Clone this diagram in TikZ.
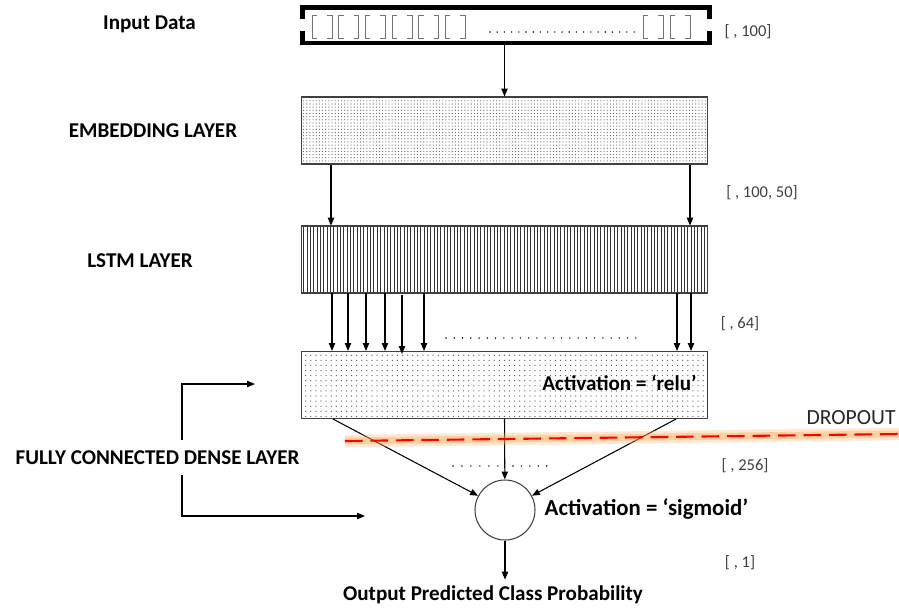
\documentclass[tikz,border=0pt]{standalone}
\usepackage{fontspec}
\setmainfont{Carlito}
\usetikzlibrary{arrows.meta,patterns.meta,positioning}

\tikzset{
  layer/.style={draw=black!75, minimum width=8.14cm, minimum height=1.34cm, inner sep=0pt},
  lbl/.style={font=\bfseries\fontsize{12}{14}\selectfont},
  dimlbl/.style={text=black!75, font=\fontsize{9.4}{11}\selectfont},
  dotrow/.style={line width=0.9pt, line cap=round, dash pattern=on 0pt off #1},
  brk/.style={black!55, line width=0.5pt},
}

\begin{document}
\begin{tikzpicture}[x=0.02cm,y=-0.02cm,>={Triangle[length=4.5pt,width=3.6pt]},semithick]
  \useasboundingbox (0,0) rectangle (899,610);

  % input sequence
  \node (inp) [minimum width=8.12cm,minimum height=0.68cm,inner sep=0pt] at (506,25) {};
  \draw [line width=2.3pt] ([yshift=3.4pt]inp.west) -- (inp.north west) -- (inp.north east) -- ([yshift=3.4pt]inp.east);
  \draw [line width=2.3pt] ([yshift=-3.4pt]inp.west) -- (inp.south west) -- (inp.south east) -- ([yshift=-3.4pt]inp.east);
  \foreach \x in {312,338.7,365.3,392,418.7,445.3,643,670} {
    \draw [brk] (\x+5,15) -- (\x,15) -- (\x,38) -- (\x+5,38);
    \draw [brk] (\x+15,15) -- (\x+20,15) -- (\x+20,38) -- (\x+15,38);
  }
  \draw [dotrow=4.1pt] (490,32) -- (636,32);
  \node (inlbl) [lbl] at (149.5,24) {Input Data};
  \node (d1) [dimlbl] at (748,32) {[ , 100]};

  % layers
  \node (emb) [layer,pattern={Dots[distance=1.8pt,radius=0.33pt]},pattern color=black!65] at (504.5,130.5) {};
  \node (emblbl) [lbl] at (153,131) {EMBEDDING LAYER};
  \node (d2) [dimlbl] at (762,193) {[ , 100, 50]};

  \node (lstm) [layer,pattern={Lines[angle=90,distance=1.9pt,line width=0.45pt]},pattern color=black!80] at (504.5,259.5) {};
  \node (lstmlbl) [lbl] at (140,261) {LSTM LAYER};
  \node (d3) [dimlbl] at (740,324) {[ , 64]};

  \node (dense) [layer,pattern={Dots[distance=2.9pt,radius=0.35pt]},pattern color=black!70] at (504.5,385) {};
  \node (relu) [lbl] at (619.5,383) {Activation = ‘relu’};

  \node (out) [draw=black!75,circle,minimum size=1.2cm,inner sep=0pt] at (505,510) {};
  \node (sig) [lbl,font=\bfseries\fontsize{13}{15}\selectfont] at (646.5,509) {Activation = ‘sigmoid’};
  \node (d4) [dimlbl] at (745,466) {[ , 256]};
  \node (d5) [dimlbl] at (740,563) {[ , 1]};
  \node (outlbl) [lbl] at (493,595) {Output Predicted Class Probability};

  % connections
  \draw [->] (emb.north |- inp.south) -- (emb.north);
  \draw [->] (emb.south -| 331,0) -- (lstm.north -| 331,0);
  \draw [->] (emb.south -| 690,0) -- (lstm.north -| 690,0);
  \foreach \x in {332,348,366,385,424,677,691}
    \draw [->] (lstm.south -| \x,0) -- (dense.north -| \x,0);
  \draw [->,shorten <=1.1pt,shorten >=-1.7pt] (lstm.south -| 402,0) -- (dense.north -| 402,0);
  \draw [dotrow=4.7pt] (446,338) -- (638,338);

  \draw [->] (dense.south -| 333,0) -- (out);
  \draw [->] (dense.south) -- (out);
  \draw [->] (dense.south -| 676,0) -- (out);
  \draw [dotrow=5.1pt] (453,466) -- (498,466);
  \draw [dotrow=4.8pt] (513,466) -- (555,466);
  \draw [->] (out.south) -- (out.south |- outlbl.north);

  % dropout
  \coordinate (dropA) at (345,441);
  \coordinate (dropB) at (899,434);
  \draw [line width=7pt,orange!60,opacity=0.3] (dropA) -- (dropB);
  \draw [line width=4pt,orange!80,opacity=0.3] (dropA) -- (dropB);
  \draw [red,line width=1.2pt,dash pattern=on 10pt off 4.5pt] (dropA) -- (dropB);
  \node (drop) [text=black!85,font=\fontsize{12.3}{14}\selectfont] at (851,418) {DROPOUT};

  % fully connected bracket
  \node (fc) [lbl] at (157.5,458) {FULLY CONNECTED DENSE LAYER};
  \coordinate (brA) at (182,440);
  \coordinate (brB) at (255,384);
  \coordinate (brC) at (182,475);
  \coordinate (brD) at (365,516);
  \draw [->] (brA) |- (brB);
  \draw [->] (brC) |- (brD);
\end{tikzpicture}
\end{document}
